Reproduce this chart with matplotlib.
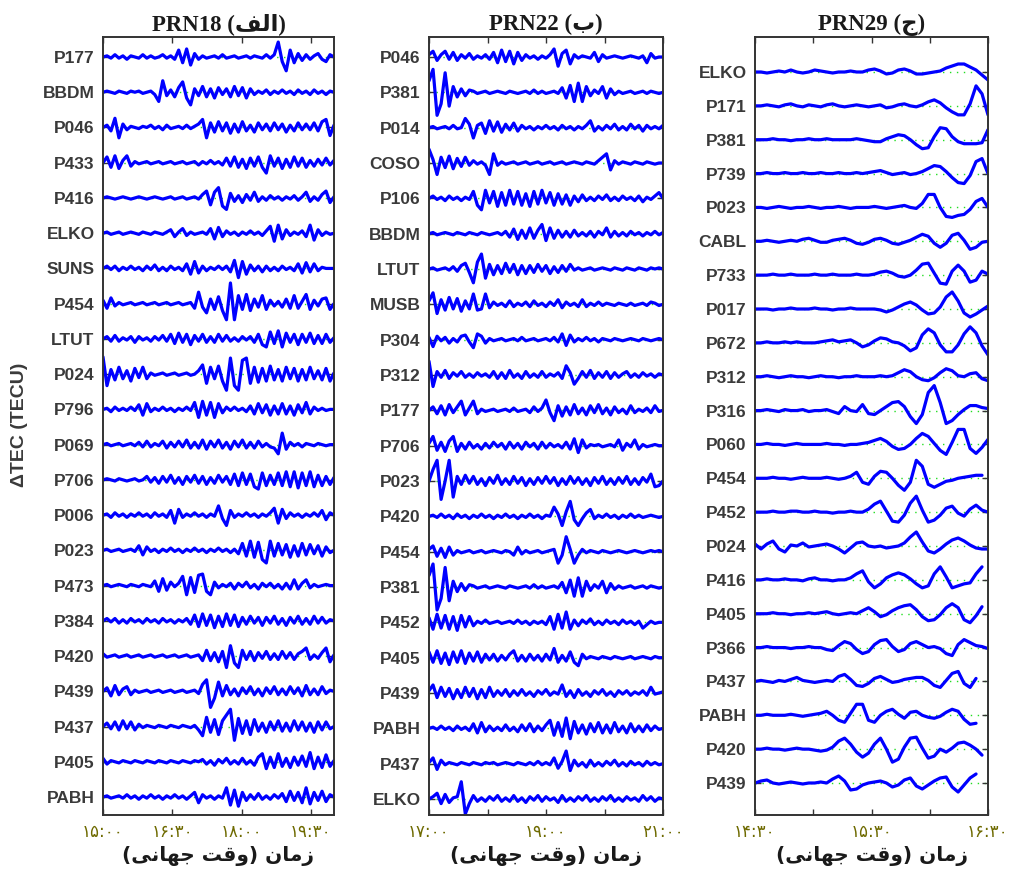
import numpy as np
import matplotlib
matplotlib.use('Agg')
import matplotlib.pyplot as plt

nan = np.nan

# ---------------- PRN18 (panel a) : 15:00 - 20:00 ----------------
prn18_stations = ['P177', 'BBDM', 'P046', 'P433', 'P416', 'ELKO', 'SUNS', 'P454', 'LTUT', 'P024', 'P796',
                  'P069', 'P706', 'P006', 'P023', 'P473', 'P384', 'P420', 'P439', 'P437', 'P405', 'PABH']
prn18_time = [15.0, 20.0]
prn18_ticks = [15.0, 16.5, 18.0, 19.5]
prn18_ticklabels = ['۱۵:۰۰', '۱۶:۳۰', '۱۸:۰۰', '۱۹:۳۰']

prn18_P177 = [0,1,-1,2,-1,1,-2,1,0,-1, 2,-1,1,-1,0,2,-1,1,-2,6, -5,7,-7,3,-2,1,-1,0,1,-1, 2,-1,0,1,-1,0,1,-1,1,0, -1,2,-1,2,13,-4,-12,6,-5,3, -3,2,-2,1,3,-2,-4,2,0]
prn18_BBDM = [0,1,0,-1,1,0,-1,1,0,1, -1,0,1,-2,-8,10,-3,2,-4,4, 9,-5,-11,3,-3,5,-4,3,-5,4, -2,3,-4,5,-3,4,-5,3,-2,1, -1,2,-2,1,-1,2,-1,1,-2,2, -1,1,-2,2,-1,1,-2,1,0]
prn18_P046 = [0,2,-3,8,-9,3,-2,1,0,-1, 1,0,2,-1,1,-2,2,-1,0,1, -1,2,-1,1,3,7,-9,4,-4,5, -3,4,-5,3,-4,5,-3,2,-4,4, -2,3,-3,4,-2,3,-4,2,-3,4, -2,3,-2,4,-3,5,7,-7,2]
prn18_P433 = [0,5,-4,6,-5,2,6,-3,1,-1, 0,1,-1,0,1,-1,0,1,-1,0, 1,-1,0,1,-2,1,-1,2,-1,1, -2,4,-3,5,-4,3,-5,4,-3,5, -4,-9,6,-3,4,-5,3,-4,5,-3, 4,-4,2,-3,3,-2,4,-2,2]
prn18_P416 = [0,1,0,-1,0,1,0,-1,0,1, 0,-1,0,1,0,-1,0,1,-1,0, 1,-1,0,1,-1,3,6,-6,5,9, -7,-10,4,-3,2,-4,3,-2,5,-3, 1,-2,2,-1,1,-2,1,-1,2,-2, 1,5,-3,1,-2,3,6,-4,1]
prn18_ELKO = [0,1,-1,0,1,-1,0,1,0,-1, 1,0,-1,1,0,-1,1,3,-3,1, 4,-2,1,-1,0,1,-1,4,-5,5, -3,2,-1,1,-2,1,-1,2,-1,1, -2,2,6,-7,7,-5,3,-2,1,-1, 2,-3,7,-6,3,-2,1,-1,0]
prn18_SUNS = [0,2,-1,2,-2,1,-1,2,-1,1, -2,2,-1,3,-2,1,-2,2,-1,1, -2,4,-5,6,-4,2,-2,1,-1,2, -1,2,-3,7,-8,6,-5,3,-2,2, -3,2,-2,1,-2,2,-1,1,-2,4, -4,5,-3,4,-2,1,0,0,0]
prn18_P454 = [3,-4,5,-2,1,-1,0,1,-1,0, 1,-1,0,1,-1,0,1,-1,0,1, -1,0,1,-4,10,-3,-8,4,-5,6, -6,-14,18,-14,7,-5,8,-6,4,-3, 7,-5,3,-2,2,-3,4,-4,7,-4, 2,8,-5,3,-2,4,5,-5,0]
prn18_LTUT = [0,2,-2,3,-2,1,-1,2,-3,2, -1,1,-2,2,-1,3,-2,4,-4,5, -3,4,-5,3,-2,4,-3,2,-3,4, -2,3,-2,1,-2,2,-1,2,-3,4, -5,-7,6,-4,7,-7,5,-3,4,-5, 4,-3,5,-4,3,-4,4,-3,1]
prn18_P024 = [15,-10,4,-5,6,-4,3,-6,5,-3, 6,-4,1,-1,0,1,-1,0,1,-1, 0,1,-1,0,3,8,-8,6,-4,7, -6,-14,14,-10,-14,12,14,-8,6,-7, 5,-6,7,-5,4,-6,6,-4,5,-6, 4,-5,6,-4,3,-5,5,-6,1]
prn18_P796 = [0,1,-2,2,-1,1,-1,2,-1,4, -5,5,-2,1,-1,2,-1,1,-2,1, -1,2,-1,6,-7,7,-5,6,-7,5, -3,2,-1,2,-1,1,-2,3,-4,5, -3,4,-5,3,-4,5,-4,3,-5,4, -3,6,-4,2,-1,1,-1,0,0]
prn18_P069 = [0,1,-1,0,1,-1,0,1,-1,2, -2,3,-2,1,-1,3,-3,2,-2,3, -2,4,-3,2,-3,4,-4,3,-2,4, -3,2,-4,3,-2,4,-3,2,-3,3, -2,1,-2,-3,-8,10,-4,2,-1,1, -2,1,0,-1,1,0,-1,0,0]
prn18_P706 = [0,1,0,-1,1,0,-1,0,1,-1, 0,3,-2,2,-3,3,-2,4,-3,2, -4,3,-2,4,-3,3,-4,2,-3,4, -2,3,-4,5,-5,6,-4,5,-6,-8, 6,-5,4,-4,6,-5,7,-6,7,-7, 6,-5,7,-6,4,-5,3,-4,2]
prn18_P006 = [0,1,-2,2,-1,1,-2,1,-1,2, -1,1,-2,2,-1,1,-2,4,-7,5, -2,1,-1,2,-1,1,-2,1,-1,8, -3,-9,4,-2,1,-1,2,-1,1,-2, 1,-1,2,6,-7,5,-3,2,-1,1, -2,1,-1,2,-1,4,-4,2,0]
prn18_P023 = [0,1,-1,0,1,-1,0,1,-1,4, -4,3,-1,1,-2,1,-1,2,-1,1, -2,1,-1,2,-1,1,-2,1,-1,2, -1,1,-2,1,-3,6,-5,8,-6,7, -8,-11,8,-5,6,-4,5,-6,4,-5, 6,-4,5,-3,4,-5,3,-2,0]
prn18_P473 = [0,1,-1,0,1,0,-1,1,0,-1, 1,0,-1,4,-5,6,-4,3,-1,2, 8,-8,7,-6,9,10,-5,-8,3,-2, 1,-1,2,-3,2,-1,3,-2,1,-3, 2,-1,2,-2,1,-3,2,-3,5,-3, 2,5,-2,1,-1,0,1,0,0]
prn18_P384 = [0,2,-1,2,-2,1,-2,2,-1,1, -2,2,-1,1,-2,2,-1,1,-2,1, -1,2,-3,5,-5,6,-4,5,-6,4, -5,6,-4,5,-5,3,-3,4,-2,3, -4,3,-2,4,-3,2,-4,3,-2,4, -3,2,-3,4,-2,3,-2,1,0]
prn18_P420 = [2,-1,0,1,-1,0,1,-1,0,1, -1,0,1,-1,0,1,-1,0,1,-1, 0,1,-1,0,1,-4,5,-4,3,-5, 4,-10,9,-6,-10,5,-3,4,-4,3, -2,4,-3,2,-3,4,-2,3,-3,2, 4,7,-3,1,-2,3,7,-5,1]
prn18_P439 = [0,3,-4,5,-3,2,4,-3,1,-1, 0,1,-1,0,1,-1,0,1,-1,0, 1,-1,0,1,-2,6,10,-14,-6,8, -4,5,-3,2,-4,3,-2,4,-3,2, -4,3,-2,4,-3,2,-3,4,-2,3, -4,5,-3,2,-3,4,-2,1,0]
prn18_P437 = [0,3,-2,4,-3,5,-2,4,-3,2, -1,1,0,-1,1,0,-1,1,0,-1, 1,0,-1,1,-3,-8,8,-5,6,-7, 5,10,15,-12,7,-6,5,-7,6,-4, 3,-5,4,-3,5,-4,3,-4,5,-3, 4,-4,3,-5,4,-3,4,-2,0]
prn18_P405 = [3,-2,1,0,-1,1,0,-1,1,0, -1,1,0,-1,1,0,-1,1,0,-1, 1,0,-1,1,0,2,-2,1,-3,2, -1,3,-2,1,-2,3,-2,1,-3,4, 7,-6,4,-5,7,-4,3,-5,4,-3, 5,-4,8,-6,4,-5,6,-4,1]
prn18_PABH = [0,1,-1,0,1,-1,2,-1,1,-2, 1,-1,2,-1,1,-2,1,-1,2,-1, 1,-2,1,4,-5,2,-1,1,-2,1, -1,8,-7,6,-8,4,-3,2,-2,3, -2,1,-2,2,-1,3,-4,5,-3,4, -5,8,-6,4,-3,5,-4,2,0]

# ---------------- PRN22 (panel b) : 17:00 - 21:00 ----------------
prn22_stations = ['P046', 'P381', 'P014', 'COSO', 'P106', 'BBDM', 'LTUT', 'MUSB', 'P304', 'P312', 'P177',
                  'P706', 'P023', 'P420', 'P454', 'P381', 'P452', 'P405', 'P439', 'PABH', 'P437', 'ELKO']
prn22_time = [17.0, 21.0]
prn22_ticks = [17.0, 18.0, 19.0, 20.0, 21.0]
prn22_ticklabels = ['۱۷:۰۰', '', '۱۹:۰۰', '', '۲۱:۰۰']

prn22_P046 = [2,5,-3,2,5,-2,4,-3,2,-1, 3,-2,1,-1,2,-2,4,-5,6,-4, 5,-6,4,-3,2,-1,1,-2,1,-1, 2,7,-8,3,6,-6,2,-1,1,0, -1,4,-4,2,-1,0,1,0,-1,0, 1,0,-1,1,-5,3,-1,0,0]
prn22_P381 = [10,20,-20,-10,17,-12,5,-4,3,-3, 2,1,-1,0,1,-1,0,1,0,-1, 1,0,-1,0,1,-1,2,-1,1,-1, 0,1,-1,4,-5,6,-8,8,-8,5, -3,2,-1,5,-5,3,-2,1,-1,0, 1,-1,0,1,-1,1,0,-1,0]
prn22_P014 = [0,1,-1,0,1,-1,2,-1,0,8, 3,-9,2,4,-5,6,-3,5,-4,3, -2,4,-3,2,-1,1,-2,1,-1,2, -1,1,-2,2,-1,1,-2,1,-1,2, 6,-3,1,-2,2,-1,3,-2,1,-2, 3,-1,2,-3,2,-1,1,-1,2]
prn22_COSO = [12,3,-10,5,-4,6,-5,4,-3,5, -2,2,-1,1,-2,-10,8,-2,1,-1, 0,1,-1,0,1,-1,0,1,-1,0, 1,-1,0,1,-1,0,1,0,-1,1, 0,-1,2,5,8,-6,2,-1,1,0, -1,1,0,-1,1,0,-1,0,0]
prn22_P106 = [0,2,-1,1,-2,2,-1,1,-2,1, -1,6,-6,-10,7,-4,6,-7,5,-6, 7,-5,6,-6,4,-7,6,-5,7,-4, 5,-6,4,-5,3,-6,2,-3,3,-2, 1,-2,2,-1,3,-2,1,-2,2,-1, 1,-2,2,-3,1,-1,2,5,0]
prn22_BBDM = [0,1,-1,0,1,0,-1,1,0,-1, 1,0,-1,1,0,-1,0,1,-1,2, -3,4,-5,3,-4,5,-4,3,8,-6, 5,-4,3,-3,2,-3,3,-2,1,-2, 2,-3,2,-1,5,-3,2,-2,1,-2, 2,-1,1,-2,1,-1,2,-1,1]
prn22_LTUT = [0,1,-1,0,1,-1,2,-2,3,5, -3,-12,6,13,-8,4,-5,3,-4,5, -3,4,-5,3,-4,3,-3,4,-2,3, -4,2,-3,3,-2,4,-1,1,-1,0, 1,-1,0,1,0,-1,1,0,-1,1, 0,-1,1,0,-1,1,0,1,0]
prn22_MUSB = [3,10,-8,4,-5,6,-4,5,-6,3, -4,9,-5,-4,9,-3,2,-1,1,-2, 3,-2,1,-1,2,-2,3,-1,1,-2, 2,-1,4,-3,2,-1,1,-2,4,-2, 1,-1,2,-1,1,0,-1,1,0,-1, 1,-1,0,1,-1,2,1,-1,0]
prn22_P304 = [2,-6,3,-1,2,-3,1,-2,3,4, -2,-7,5,3,-3,1,-1,0,1,-1, 0,1,-1,2,-1,0,1,-1,0,1, -1,2,-2,5,-5,4,-2,1,-1,2, -1,1,-2,1,0,-1,1,0,-1,0, 1,0,-1,1,0,-1,0,1,0]
prn22_P312 = [12,-10,3,-2,4,-3,2,-1,3,-2, 1,-2,2,-1,1,-2,3,-3,2,-3, 4,-2,1,-3,3,-2,1,-2,3,-2, 1,-1,2,-3,8,2,-8,-3,3,-2, 4,-3,2,-2,3,-3,2,-2,1,3, -2,1,-2,2,-1,1,-2,1,0]
prn22_P177 = [0,3,-3,4,-4,5,-2,3,8,-4, 2,8,-3,1,-1,0,1,-1,0,1, -1,2,-1,0,1,-2,3,-1,2,9, -2,-9,4,-5,3,-4,5,-3,2,-4, 4,-2,5,-3,2,-4,3,-2,1,-3, 4,-2,1,-1,2,-2,4,-1,0]
prn22_P706 = [2,8,-4,3,-5,4,8,-5,2,-3, 3,-2,1,-3,2,-2,3,-1,2,-3, 3,-2,2,-3,3,-1,2,-3,3,-2, 2,-1,1,-2,3,-3,6,-6,5,-2, 1,0,1,-1,0,1,-1,5,-4,2, -1,5,-3,1,-1,0,1,0,0]
prn22_P023 = [0,10,18,-16,0,18,-14,4,-3,5, -2,4,-3,2,-4,3,-2,5,-3,2, -3,4,-2,3,-4,2,-3,3,-2,4, -2,3,-4,2,-3,4,-2,3,-3,2, -4,3,-2,4,-3,2,-3,3,-2,4, -3,2,-3,3,-1,6,-5,-4,0]
prn22_P420 = [0,1,-1,2,-1,1,-2,2,-1,1, -2,1,-1,2,-1,1,-2,1,-1,2, -1,1,-2,1,-1,2,-1,1,-2,1, 0,8,2,-8,4,13,-3,-8,-2,3, 6,-2,1,-1,2,-1,1,-2,1,-1, 2,-1,1,-1,0,1,0,-1,0]
prn22_P454 = [2,5,-4,3,-5,4,-3,1,-1,0, 1,-1,0,1,-1,0,1,0,-1,1, 0,-3,4,-2,1,-1,0,1,-1,0, 1,2,-10,-3,13,2,-10,-3,2,-1, 1,0,-1,1,0,-1,0,1,0,-1, 0,1,0,-1,0,1,0,1,0]
prn22_P452 = [4,-6,7,-5,6,-6,5,-7,6,-4, 5,-3,1,-1,2,-1,0,1,-1,0, 1,-1,2,-1,1,-2,1,-1,1,-2, 5,-6,7,-5,9,-6,2,-3,2,-1, 3,-2,1,-2,2,-1,1,-2,2,-1, 1,-2,1,-5,-2,1,-1,0,0]
prn22_P405 = [5,-4,6,-5,4,-6,5,-4,6,-5, 4,-3,5,-4,3,-2,3,-3,2,-2, 3,6,-3,2,-3,3,-2,2,-3,3, -2,8,-4,2,-3,5,-4,-7,3,-1, 1,0,-1,1,0,-1,1,0,-1,0, 1,-1,0,1,0,-1,1,0,0]
prn22_P439 = [2,7,-4,5,-3,4,-5,3,-4,5, -3,4,-5,3,-4,5,-3,2,-2,3, -3,2,-2,3,-2,1,-3,2,-1,3, -2,1,-1,7,-3,2,-4,3,-2,1, -3,2,-1,3,-2,1,-3,2,-1,2, -2,1,-1,2,-2,5,-1,0,1]
prn22_PABH = [0,1,-1,2,-1,1,-2,2,-1,1, -2,4,-4,5,-3,2,-2,1,-2,3, -2,1,-3,3,-2,4,-3,2,-2,3, 7,-6,5,-7,9,-9,6,-4,3,-5, 4,-3,5,-4,3,-4,5,-3,2,-4, 4,-3,2,-3,3,-2,2,-1,0]
prn22_P437 = [1,5,-5,3,-1,1,0,-1,1,0, -1,1,0,-1,1,0,1,-1,0,1, 0,-1,1,0,-1,1,-1,2,-1,1, -1,5,-4,2,11,-6,3,-2,1,-3, 3,-2,1,-2,2,-1,3,-2,1,-2, 2,-1,1,-2,2,-1,1,-1,0]
prn22_ELKO = [0,2,5,-4,4,-3,1,2,15,-13, -4,3,-2,1,-2,2,-1,3,-2,1, -2,3,-2,1,-3,2,-1,3,-2,2, -1,1,-3,3,-2,1,-2,2,-1,3, -2,1,-2,2,-1,3,-2,1,-2,2, -1,1,-2,3,-1,2,-2,1,0]

# ---------------- PRN29 (panel c) : 14:30 - 16:30 ----------------
prn29_stations = ['ELKO', 'P171', 'P381', 'P739', 'P023', 'CABL', 'P733', 'P017', 'P672', 'P312', 'P316',
                  'P060', 'P454', 'P452', 'P024', 'P416', 'P405', 'P366', 'P437', 'PABH', 'P420', 'P439']
prn29_time = [14.5, 16.5]
prn29_ticks = [14.5, 15.0, 15.5, 16.0, 16.5]
prn29_ticklabels = ['۱۴:۳۰', '', '۱۵:۳۰', '', '۱۶:۳۰']

prn29_ELKO = [0,0,-1,0,1,0,2,0,-1,0, 2,1,0,-1,0,0,1,0,0,2, 3,1,-2,-1,2,3,1,-2,-2,-1, 0,1,4,6,8,8,5,2,-3,-8]
prn29_P171 = [0,0,1,0,-1,1,2,0,-1,1, 0,-1,1,2,0,-1,0,1,0,-1, 0,1,-2,-1,1,2,0,-1,1,4, 6,3,-2,-6,-9,-9,2,20,12,-9]
prn29_P381 = [0,0,0,1,0,0,-1,0,0,1, 0,0,1,0,0,0,0,1,0,-1, -2,-2,1,3,5,4,0,-5,-9,-8, 3,12,11,3,-2,-4,-4,-4,-3,10]
prn29_P739 = [0,0,1,0,0,1,0,0,1,0, 0,1,0,0,1,0,0,1,0,1, 2,3,1,-1,0,1,-1,0,2,5, 8,7,2,-4,-9,-10,-2,12,15,0]
prn29_P023 = [0,0,-1,0,1,0,-1,0,0,1, 0,-1,0,0,1,0,-1,0,0,0, 1,0,-1,0,1,2,0,-1,4,13, 13,0,-9,-10,-8,-7,-2,6,9,0]
prn29_CABL = [0,0,1,0,-1,0,1,0,2,3, 1,-1,-1,1,2,3,1,-2,-3,-1, 2,3,1,-2,-3,-1,1,4,7,5, -2,-6,-2,6,8,1,-8,-6,-1,0]
prn29_P733 = [0,0,0,1,0,0,1,0,0,0, 1,0,0,1,0,0,0,1,0,0, 1,3,4,2,-1,-2,0,5,11,12, 2,-8,-9,4,10,4,-7,-5,4,1]
prn29_P017 = [0,0,0,-1,0,0,1,0,0,0, 1,0,0,-1,0,0,1,0,0,0, 0,-1,-3,-1,2,5,7,4,-1,-5, -4,2,12,17,8,-4,-8,-5,-1,3]
prn29_P672 = [0,0,1,0,0,1,0,1,0,0, 0,1,2,3,1,2,3,0,-4,-2, 2,5,4,1,0,-3,-8,-5,8,14, 10,-2,-9,-9,-2,9,16,10,-3,-12]
prn29_P312 = [0,0,1,0,-1,0,1,0,0,-1, 0,1,0,0,-1,0,0,1,0,0, 0,1,0,1,4,7,5,0,-3,-4, -1,4,8,6,1,0,3,4,-2,-4]
prn29_P316 = [0,0,1,0,-1,1,0,0,1,-1, 0,0,1,-1,-3,4,0,-1,6,-3, -4,0,4,8,9,4,-6,-13,-4,18, 25,8,-13,-10,-4,1,5,5,3,2]
prn29_P060 = [0,0,1,0,0,-1,0,1,0,0, 0,0,1,0,0,-1,0,0,1,2, 4,6,3,-2,-5,-4,0,6,11,8, 1,-6,-10,2,15,15,-4,-9,-3,5]
prn29_P454 = [0,0,0,1,0,0,-1,0,1,0, 0,0,1,0,-1,0,2,6,-4,-6, 2,7,6,0,-7,-12,-4,18,12,-6, -9,-6,-3,-2,0,1,2,3,3,nan]
prn29_P452 = [0,0,0,1,0,0,1,1,0,0, 1,0,0,-1,0,0,1,0,0,3, 8,11,1,-9,-10,-3,9,16,2,-10, -8,-3,4,6,-1,-4,3,7,2,0]
prn29_P024 = [2,-3,2,5,-3,-6,1,0,3,-1, 0,1,2,0,-3,-7,-2,3,4,0, -1,0,-2,-1,0,3,9,14,4,-5, -7,-3,2,6,8,5,1,-2,-3,-3]
prn29_P416 = [0,0,1,0,0,1,0,0,-1,1, 2,0,0,-1,0,0,2,6,9,-2, -8,-4,2,5,7,5,1,-4,-8,-6, 6,13,3,-8,-6,-4,-3,6,13,nan]
prn29_P405 = [0,0,0,1,0,0,-1,0,0,1, 0,1,2,0,-1,0,1,0,3,6, 2,-3,-1,3,6,8,9,4,-3,-7, -6,-1,6,10,6,-6,-9,-2,7,nan]
prn29_P366 = [0,0,1,0,0,0,-1,0,0,1, 0,0,-2,-3,2,6,4,-2,-6,-4, 3,7,8,1,-4,-2,4,6,3,0, 1,-1,-6,-8,3,8,5,2,1,-1]
prn29_P437 = [0,1,0,-1,1,0,2,4,1,0, -1,0,1,0,5,7,2,-4,-5,-2, 3,5,2,-1,0,2,3,4,4,1, -4,-6,1,8,10,-2,-6,3,nan,nan]
prn29_PABH = [0,0,1,0,0,0,1,0,-1,0, 1,2,4,0,-5,-7,2,11,11,-5, -7,0,4,6,1,-3,3,4,0,-2, -3,-1,3,6,4,-4,-9,-8,nan,nan]
prn29_P420 = [0,0,1,0,0,-1,0,1,0,0, -1,-2,-1,2,8,11,5,-3,-8,-4, 5,11,0,-13,-10,2,11,12,1,-9, -7,0,-3,1,6,7,4,0,-6,nan]
prn29_P439 = [0,2,3,0,-1,0,1,0,-1,0, 0,1,0,4,7,2,-7,-6,-2,0, 1,2,0,-4,-2,3,5,-3,-6,-2, 2,5,6,-4,-9,-2,5,9,nan,nan]

prn18_traces = [prn18_P177, prn18_BBDM, prn18_P046, prn18_P433, prn18_P416, prn18_ELKO, prn18_SUNS,
                prn18_P454, prn18_LTUT, prn18_P024, prn18_P796, prn18_P069, prn18_P706, prn18_P006,
                prn18_P023, prn18_P473, prn18_P384, prn18_P420, prn18_P439, prn18_P437, prn18_P405, prn18_PABH]
prn22_traces = [prn22_P046, prn22_P381, prn22_P014, prn22_COSO, prn22_P106, prn22_BBDM, prn22_LTUT,
                prn22_MUSB, prn22_P304, prn22_P312, prn22_P177, prn22_P706, prn22_P023, prn22_P420,
                prn22_P454, prn22_P381, prn22_P452, prn22_P405, prn22_P439, prn22_PABH, prn22_P437, prn22_ELKO]
prn29_traces = [prn29_ELKO, prn29_P171, prn29_P381, prn29_P739, prn29_P023, prn29_CABL, prn29_P733,
                prn29_P017, prn29_P672, prn29_P312, prn29_P316, prn29_P060, prn29_P454, prn29_P452,
                prn29_P024, prn29_P416, prn29_P405, prn29_P366, prn29_P437, prn29_PABH, prn29_P420, prn29_P439]

# Titles / labels (Arabic-script text given in visual order with presentation forms)
titles = ['PRN18 (\ufed2\ufedf\ufe8d)', 'PRN22 (\ufe8f)', 'PRN29 (\ufe9d)']
xlabel_text = '(\ufef0\ufee7\ufe8e\ufeec\ufe9f \ufe96\ufed7\ufeed) \ufee5\ufe8e\ufee3\ufeaf'
ylabel_text = 'ΔTEC (TECU)'

# ---------------- drawing ----------------
W, H = 1014, 874
fig = plt.figure(figsize=(W / 100, H / 100), dpi=100)
fig.patch.set_facecolor('white')

panels = [
    dict(left=103, right=334, stations=prn18_stations, traces=prn18_traces, time=prn18_time,
         ticks=prn18_ticks, labels=prn18_ticklabels, first=57, last=797, title=titles[0], gain=1.15),
    dict(left=429, right=663, stations=prn22_stations, traces=prn22_traces, time=prn22_time,
         ticks=prn22_ticks, labels=prn22_ticklabels, first=57, last=799, title=titles[1], gain=1.15),
    dict(left=755, right=988, stations=prn29_stations, traces=prn29_traces, time=prn29_time,
         ticks=prn29_ticks, labels=prn29_ticklabels, first=72, last=783, title=titles[2], gain=1.0),
]
top_px, bot_px = 37, 815

label_col = '#3a3a3a'
tick_col = '#6e6a00'

for p in panels:
    ax = fig.add_axes([p['left'] / W, 1 - bot_px / H, (p['right'] - p['left']) / W, (bot_px - top_px) / H])
    n = len(p['stations'])
    spacing = (p['last'] - p['first']) / (n - 1)
    t0, t1 = p['time']
    for j, vals in enumerate(p['traces']):
        v = np.array(vals, dtype=float) * p['gain']
        t = np.linspace(t0, t1, len(v))
        ax.plot([t0, t1], [j, j], color='#22dd22', linestyle=(0, (1, 4)), lw=1.0, zorder=1)
        ax.plot(t, j - v / spacing, color='#0000ff', lw=2.3, solid_joinstyle='round',
                solid_capstyle='round', zorder=2)
    ax.set_xlim(t0, t1)
    ylim_top = -(p['first'] - top_px) / spacing
    ylim_bot = (n - 1) + (bot_px - p['last']) / spacing
    ax.set_ylim(ylim_bot, ylim_top)
    ax.set_yticks(range(n))
    ax.set_yticklabels(p['stations'], fontsize=12.5, fontweight='bold', color=label_col,
                       family=['Liberation Sans', 'DejaVu Sans'])
    ax.set_xticks(p['ticks'])
    ax.set_xticklabels(p['labels'], fontsize=12, color=tick_col, family=['DejaVu Sans'])
    ax.tick_params(axis='both', direction='in', length=4, width=1.0, top=True, right=True,
                   color='#333333')
    ax.tick_params(axis='y', pad=6)
    ax.tick_params(axis='x', pad=6)
    for s in ax.spines.values():
        s.set_color('#333333')
        s.set_linewidth(1.4)
    ax.set_title(p['title'], fontsize=16.5, fontweight='bold', color='#1a1a1a',
                 family=['Liberation Serif', 'DejaVu Sans'], pad=5)
    ax.set_xlabel(xlabel_text, fontsize=14.5, fontweight='bold', color='#1a1a1a',
                  family=['DejaVu Sans'], labelpad=3)

fig.text(20 / W, 1 - 425 / H, ylabel_text, rotation=90, ha='center', va='center',
         fontsize=14, fontweight='bold', color=label_col, family=['Liberation Sans', 'DejaVu Sans'])

fig.savefig('out.png', dpi=100, facecolor='white')
